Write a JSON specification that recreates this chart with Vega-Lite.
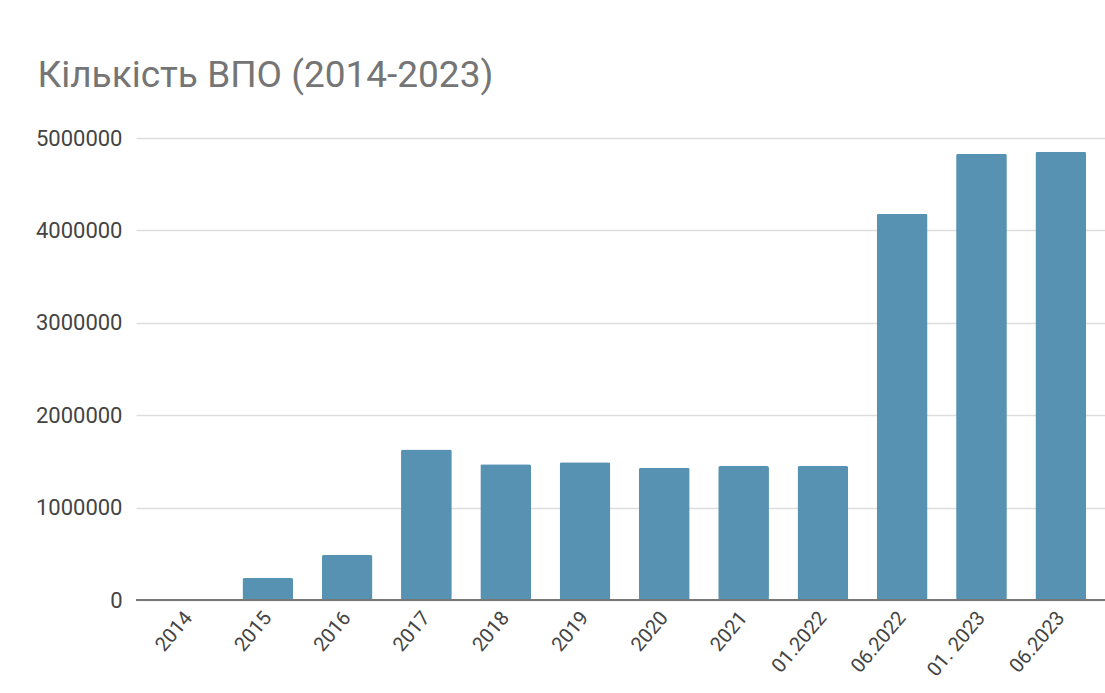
{
  "$schema": "https://vega.github.io/schema/vega-lite/v6.json",
  "autosize": "none",
  "width": 969,
  "height": 462,
  "padding": {"left": 136, "top": 138, "right": 0, "bottom": 93},
  "background": "white",
  "title": {
    "text": "Кількість ВПО (2014-2023)",
    "anchor": "start",
    "font": "Roboto",
    "fontSize": 37,
    "fontWeight": "normal",
    "color": "#757575",
    "dx": 2,
    "offset": 32
  },
  "data": {
    "values": [
      {"period": "2014", "idp": 0},
      {"period": "2015", "idp": 238000},
      {"period": "2016", "idp": 486000},
      {"period": "2017", "idp": 1630000},
      {"period": "2018", "idp": 1470000},
      {"period": "2019", "idp": 1490000},
      {"period": "2020", "idp": 1430000},
      {"period": "2021", "idp": 1450000},
      {"period": "01.2022", "idp": 1450000},
      {"period": "06.2022", "idp": 4180000},
      {"period": "01. 2023", "idp": 4830000},
      {"period": "06.2023", "idp": 4850000}
    ]
  },
  "config": {
    "view": {"stroke": null},
    "axis": {"labelFont": "Roboto", "labelColor": "#444444"}
  },
  "layer": [
    {
      "mark": {"type": "bar", "color": "#5792b3", "cornerRadius": 2},
      "encoding": {
        "x": {
          "field": "period",
          "type": "nominal",
          "sort": null,
          "scale": {"paddingInner": 0.36, "paddingOuter": 0.29, "align": 0.59},
          "axis": {
            "title": null,
            "domain": false,
            "ticks": false,
            "labelAngle": -50,
            "labelFontSize": 20,
            "labelPadding": 14
          }
        },
        "y": {
          "field": "idp",
          "type": "quantitative",
          "scale": {"domain": [0, 5000000]},
          "axis": {
            "title": null,
            "domain": false,
            "ticks": false,
            "values": [0, 1000000, 2000000, 3000000, 4000000, 5000000],
            "format": "d",
            "labelFontSize": 22,
            "labelPadding": 14,
            "gridColor": "#dddddd",
            "gridWidth": 1.5
          }
        }
      }
    },
    {
      "mark": {"type": "rule", "color": "#777777", "strokeWidth": 2},
      "encoding": {"y": {"datum": 0}}
    }
  ]
}
